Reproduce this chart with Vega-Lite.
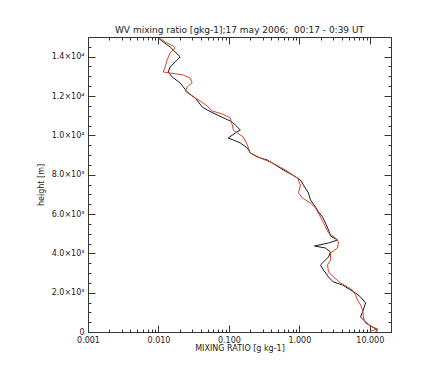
{
  "$schema": "https://vega.github.io/schema/vega-lite/v6.json",
  "autosize": {"type": "none"},
  "width": 303,
  "height": 295,
  "padding": {"left": 88, "top": 37, "right": 43, "bottom": 39},
  "background": "white",
  "title": {"text": "WV mixing ratio [gkg-1];17 may 2006;\u00a0 00:17 - 0:39 UT", "font": "DejaVu Sans", "fontSize": 9, "fontWeight": "normal", "color": "#222", "anchor": "middle", "offset": -7, "baseline": "bottom"},
  "config": {
    "view": {"stroke": null},
    "axis": {"labelFont": "DejaVu Sans", "titleFont": "DejaVu Sans", "labelFontSize": 8, "titleFontSize": 8, "titleFontWeight": "normal", "labelColor": "#222", "titleColor": "#222", "domainColor": "#333", "tickColor": "#333", "grid": false, "labelFlush": false, "labelOverlap": false}
  },
  "datasets": {
    "black": [
      {"x": 0.00957, "h": 15000}, {"x": 0.01167, "h": 14747}, {"x": 0.01465, "h": 14492}, {"x": 0.01618, "h": 14340},
      {"x": 0.02037, "h": 13984}, {"x": 0.0173, "h": 13730}, {"x": 0.01465, "h": 13475}, {"x": 0.01374, "h": 13221},
      {"x": 0.01567, "h": 12967}, {"x": 0.02037, "h": 12662}, {"x": 0.02559, "h": 12204}, {"x": 0.03327, "h": 11899},
      {"x": 0.0419, "h": 11441}, {"x": 0.0493, "h": 11289}, {"x": 0.0684, "h": 11034}, {"x": 0.1117, "h": 10679},
      {"x": 0.1233, "h": 10526}, {"x": 0.1452, "h": 10272}, {"x": 0.1233, "h": 10119}, {"x": 0.0979, "h": 9865},
      {"x": 0.1156, "h": 9763}, {"x": 0.1452, "h": 9611}, {"x": 0.1828, "h": 9356}, {"x": 0.2014, "h": 9102},
      {"x": 0.2535, "h": 8899}, {"x": 0.3516, "h": 8746}, {"x": 0.4571, "h": 8492}, {"x": 0.5943, "h": 8238},
      {"x": 0.798, "h": 7983}, {"x": 1.037, "h": 7729}, {"x": 1.143, "h": 7475}, {"x": 1.346, "h": 7068},
      {"x": 1.438, "h": 6712}, {"x": 1.694, "h": 6356}, {"x": 1.87, "h": 6102}, {"x": 2.132, "h": 5848},
      {"x": 2.35, "h": 5543}, {"x": 2.594, "h": 5187}, {"x": 2.768, "h": 4882}, {"x": 3.483, "h": 4678},
      {"x": 2.594, "h": 4526}, {"x": 1.64, "h": 4373}, {"x": 2.35, "h": 4271}, {"x": 2.768, "h": 4068},
      {"x": 2.594, "h": 3814}, {"x": 2.203, "h": 3560}, {"x": 1.995, "h": 3407}, {"x": 2.203, "h": 3153},
      {"x": 2.594, "h": 2797}, {"x": 3.055, "h": 2543}, {"x": 4.102, "h": 2390}, {"x": 5.333, "h": 2136},
      {"x": 6.28, "h": 1983}, {"x": 7.4, "h": 1780}, {"x": 8.71, "h": 1475}, {"x": 7.9, "h": 1017},
      {"x": 7.4, "h": 763}, {"x": 8.71, "h": 509}, {"x": 10.26, "h": 305}, {"x": 12.91, "h": 102}, {"x": 12.1, "h": 0}
    ],
    "red": [
      {"x": 0.01057, "h": 14950}, {"x": 0.01245, "h": 14747}, {"x": 0.01618, "h": 14543}, {"x": 0.0173, "h": 14441},
      {"x": 0.01465, "h": 14187}, {"x": 0.0133, "h": 13831}, {"x": 0.01245, "h": 13475}, {"x": 0.01167, "h": 13221},
      {"x": 0.01465, "h": 13170}, {"x": 0.02244, "h": 13068}, {"x": 0.02826, "h": 12916}, {"x": 0.03013, "h": 12662},
      {"x": 0.02559, "h": 12458}, {"x": 0.02399, "h": 12255}, {"x": 0.0312, "h": 11950}, {"x": 0.0392, "h": 11746},
      {"x": 0.0493, "h": 11492}, {"x": 0.0581, "h": 11238}, {"x": 0.0805, "h": 11085}, {"x": 0.1047, "h": 10882},
      {"x": 0.1117, "h": 10526}, {"x": 0.1156, "h": 10272}, {"x": 0.1318, "h": 10119}, {"x": 0.1603, "h": 9916},
      {"x": 0.1828, "h": 9509}, {"x": 0.2014, "h": 9102}, {"x": 0.28, "h": 8848}, {"x": 0.414, "h": 8594},
      {"x": 0.634, "h": 8238}, {"x": 0.94, "h": 7831}, {"x": 1.037, "h": 7475}, {"x": 0.97, "h": 7068},
      {"x": 1.107, "h": 6814}, {"x": 1.438, "h": 6560}, {"x": 1.694, "h": 6305}, {"x": 1.995, "h": 5848},
      {"x": 2.35, "h": 5339}, {"x": 2.594, "h": 5034}, {"x": 3.265, "h": 4780}, {"x": 3.597, "h": 4577},
      {"x": 3.483, "h": 4271}, {"x": 2.768, "h": 4017}, {"x": 2.768, "h": 3661}, {"x": 2.512, "h": 3407},
      {"x": 2.594, "h": 3051}, {"x": 3.055, "h": 2797}, {"x": 3.846, "h": 2492}, {"x": 4.831, "h": 2288},
      {"x": 5.69, "h": 2136}, {"x": 6.28, "h": 1881}, {"x": 6.7, "h": 1627}, {"x": 7.4, "h": 1373},
      {"x": 7.9, "h": 1119}, {"x": 8.17, "h": 712}, {"x": 8.71, "h": 458}, {"x": 10.96, "h": 254},
      {"x": 12.91, "h": 153}, {"x": 10.26, "h": 51}
    ]
  },
  "layer": [
    {
      "data": {"name": "black"},
      "mark": {"type": "line", "color": "#1a1a1a", "strokeWidth": 1, "clip": true},
      "encoding": {
        "x": {"field": "x", "type": "quantitative", "scale": {"type": "log", "domain": [0.001, 20], "nice": false},
          "axis": {"orient": "bottom", "title": "MIXING RATIO [g kg-1]", "titlePadding": -4,
            "values": [0.001,0.002,0.003,0.004,0.005,0.006,0.007,0.008,0.009,0.01,0.02,0.03,0.04,0.05,0.06,0.07,0.08,0.09,0.1,0.2,0.3,0.4,0.5,0.6,0.7,0.8,0.9,1,2,3,4,5,6,7,8,9,10,20],
            "labelExpr": "abs(log(datum.value)/LN10 - round(log(datum.value)/LN10)) < 0.001 ? format(datum.value, '.3f') : ''",
            "tickSize": {"condition": {"test": "abs(log(datum.value)/LN10 - round(log(datum.value)/LN10)) < 0.001", "value": -7}, "value": -3},
            "labelPadding": 11}},
        "y": {"field": "h", "type": "quantitative", "scale": {"domain": [0, 15000], "nice": false},
          "axis": {"orient": "left", "title": "height [m]", "titlePadding": 6,
            "values": [0,500,1000,1500,2000,2500,3000,3500,4000,4500,5000,5500,6000,6500,7000,7500,8000,8500,9000,9500,10000,10500,11000,11500,12000,12500,13000,13500,14000,14500],
            "labelExpr": "datum.value % 2000 != 0 ? '' : datum.value == 0 ? '0' : datum.value < 10000 ? format(datum.value/1000, '.1f') + '×10³' : format(datum.value/10000, '.1f') + '×10⁴'",
            "tickSize": {"condition": {"test": "datum.value % 2000 == 0", "value": -7}, "value": -3},
            "labelPadding": 11}},
        "order": {"field": "h", "type": "quantitative"}
      }
    },
    {
      "data": {"name": "red"},
      "mark": {"type": "line", "color": "#d0482e", "strokeWidth": 1, "clip": true},
      "encoding": {
        "x": {"field": "x", "type": "quantitative", "scale": {"type": "log", "domain": [0.001, 20], "nice": false},
          "axis": {"orient": "top", "title": null, "labels": false,
            "values": [0.001,0.002,0.003,0.004,0.005,0.006,0.007,0.008,0.009,0.01,0.02,0.03,0.04,0.05,0.06,0.07,0.08,0.09,0.1,0.2,0.3,0.4,0.5,0.6,0.7,0.8,0.9,1,2,3,4,5,6,7,8,9,10,20],
            "tickSize": {"condition": {"test": "abs(log(datum.value)/LN10 - round(log(datum.value)/LN10)) < 0.001", "value": -7}, "value": -3}}},
        "y": {"field": "h", "type": "quantitative", "scale": {"domain": [0, 15000], "nice": false},
          "axis": {"orient": "right", "title": null, "labels": false,
            "values": [0,500,1000,1500,2000,2500,3000,3500,4000,4500,5000,5500,6000,6500,7000,7500,8000,8500,9000,9500,10000,10500,11000,11500,12000,12500,13000,13500,14000,14500],
            "tickSize": {"condition": {"test": "datum.value % 2000 == 0", "value": -7}, "value": -3}}},
        "order": {"field": "h", "type": "quantitative"}
      }
    }
  ],
  "resolve": {"axis": {"x": "independent", "y": "independent"}}
}
